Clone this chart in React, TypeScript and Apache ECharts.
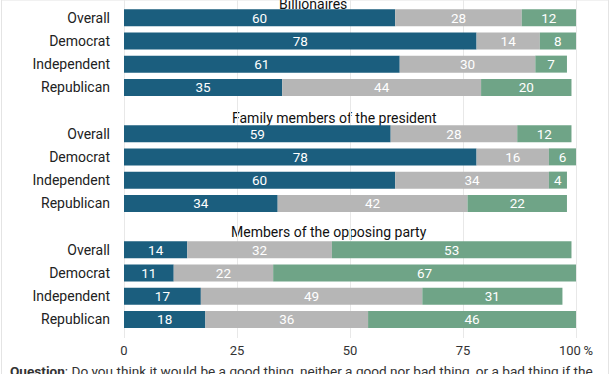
import React, { useEffect, useRef } from "react";
import * as echarts from "echarts";

const groups = ["Overall", "Democrat", "Independent", "Republican"];
const facetTitles = ["Billionaires", "Family members of the president", "Members of the opposing party"];
const xTicks = [0, 25, 50, 75, 100];

// good thing / neither / bad thing
const billionairesGood = [60, 78, 61, 35];
const billionairesNeither = [28, 14, 30, 44];
const billionairesBad = [12, 8, 7, 20];

const familyGood = [59, 78, 60, 34];
const familyNeither = [28, 16, 34, 42];
const familyBad = [12, 6, 4, 22];

const opposingGood = [14, 11, 17, 18];
const opposingNeither = [32, 22, 49, 36];
const opposingBad = [53, 67, 31, 46];

const caption = "Do you think it would be a good thing, neither a good nor bad thing, or a bad thing if the";

const COLORS = ["#1b5e7e", "#b6b6b6", "#6fa487"];
const FONT = "Roboto, 'Noto Sans', sans-serif";

export default function App() {
  const ref = useRef<HTMLDivElement>(null);
  useEffect(() => {
    if (!ref.current) return;
    const chart = echarts.init(ref.current, null, { renderer: "svg" });
    const facets = [
      [billionairesGood, billionairesNeither, billionairesBad],
      [familyGood, familyNeither, familyBad],
      [opposingGood, opposingNeither, opposingBad],
    ];
    const left = 124;
    const width = 452;
    const facetTops = [6, 122, 238];
    const facetHeight = 93;

    const grids: any[] = [{ left, width, top: 0, height: 338 }];
    const xAxes: any[] = [
      {
        gridIndex: 0,
        type: "value",
        min: xTicks[0],
        max: xTicks[xTicks.length - 1],
        interval: 25,
        axisLine: { show: false },
        axisTick: { show: false },
        splitLine: { show: true, lineStyle: { color: "#e8e8e8", width: 1 } },
        axisLabel: {
          margin: 6,
          fontSize: 13,
          color: "#333",
          fontFamily: FONT,
          formatter: (v: number) => (v === 100 ? "100\u2009%" : String(v)),
        },
      },
    ];
    const yAxes: any[] = [
      { gridIndex: 0, type: "category", data: [""], show: false },
    ];
    const series: any[] = [];
    facets.forEach((vals, fi) => {
      const gi = fi + 1;
      grids.push({ left, width, top: facetTops[fi], height: facetHeight });
      xAxes.push({
        gridIndex: gi,
        type: "value",
        min: 0,
        max: 100,
        show: false,
        splitLine: { show: false },
      });
      yAxes.push({
        gridIndex: gi,
        type: "category",
        data: groups,
        inverse: true,
        axisLine: { show: false },
        axisTick: { show: false },
        splitLine: { show: false },
        axisLabel: { margin: 14, fontSize: 14, color: "#222", fontFamily: FONT },
      });
      vals.forEach((arr, si) => {
        series.push({
          type: "bar",
          xAxisIndex: gi,
          yAxisIndex: gi,
          stack: "s" + fi,
          data: arr,
          barWidth: 17,
          itemStyle: { color: COLORS[si] },
          label: {
            show: true,
            position: "inside",
            color: "#fff",
            fontSize: 13.5,
            fontFamily: FONT,
          },
        });
      });
    });

    const titleTops = [-3, 111, 225];
    const titleLefts = [279, 232, 231];
    chart.setOption({
      animation: false,
      grid: grids,
      xAxis: xAxes,
      yAxis: yAxes,
      series,
      graphic: [
        { type: "rect", shape: { x: 1.5, y: 0, width: 607, height: 380 }, style: { fill: "none", stroke: "#e4e4e4", lineWidth: 1 }, z: -10 },
        ...facetTitles.map((t, i) => ({
          type: "text",
          x: titleLefts[i],
          y: titleTops[i],
          style: { text: t, fontSize: 14, fill: "#111", fontFamily: FONT, align: "left", verticalAlign: "top" },
        })),
        {
          type: "text",
          x: 10,
          y: 364,
          style: {
            text: "{b|Question}: " + caption,
            fontSize: 13.6,
            fill: "#333",
            fontFamily: FONT,
            rich: { b: { fontWeight: "bold", fontSize: 13.6, fill: "#333", fontFamily: FONT } },
          },
        },
      ],
    });
    return () => chart.dispose();
  }, []);
  return <div ref={ref} style={{ width: 612, height: 374, position: "absolute", left: 0, top: 0 }} />;
}
